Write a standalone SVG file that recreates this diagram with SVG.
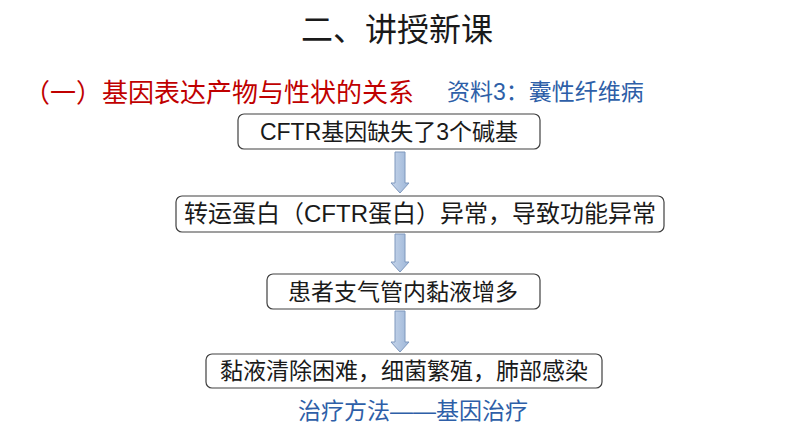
<svg xmlns="http://www.w3.org/2000/svg" width="794" height="447" viewBox="0 0 794 447">
<style>
.box{fill:#fff;stroke:#404040;stroke-width:1.2}
.t{font-family:"Liberation Sans","Noto Sans CJK SC",sans-serif;fill:#1a1a1a;text-anchor:middle}
.arr{fill:url(#g);stroke:#7f98bd;stroke-width:1}
</style>
<defs>
<linearGradient id="g" x1="0" y1="0" x2="1" y2="0">
<stop offset="0" stop-color="#c6d5ea"/>
<stop offset="1" stop-color="#9db6d8"/>
</linearGradient>
</defs>
<rect width="794" height="447" fill="#fff"/>
<text class="t" x="397" y="41" font-size="32" fill="#000">二、讲授新课</text>
<text x="24" y="102" font-size="26" fill="#c00000" font-family="Liberation Sans,Noto Sans CJK SC,sans-serif">（一）基因表达产物与性状的关系</text>
<text x="447" y="100" font-size="23" fill="#2e5fa8" font-family="Liberation Sans,Noto Sans CJK SC,sans-serif">资料3：囊性纤维病</text>
<g id="connectors">
<path class="arr" d="M395,152 H405 V183 H409 L400,193 L391,183 H395 Z"/>
<path class="arr" d="M395,234 H405 V262 H409 L400,272 L391,262 H395 Z"/>
<path class="arr" d="M395,311 H405 V342 H409 L400,352 L391,342 H395 Z"/>
</g>
<g id="n1"><rect class="box" x="238" y="114" width="302" height="35" rx="6"/><text class="t" x="389" y="140" font-size="23">CFTR基因缺失了3个碱基</text></g>
<g id="n2"><rect class="box" x="176" y="196" width="488" height="36" rx="6"/><text class="t" x="420" y="222" font-size="24">转运蛋白（CFTR蛋白）异常，导致功能异常</text></g>
<g id="n3"><rect class="box" x="267" y="274" width="273" height="35" rx="6"/><text class="t" x="403" y="300" font-size="23">患者支气管内黏液增多</text></g>
<g id="n4"><rect class="box" x="206" y="354" width="396" height="34" rx="6"/><text class="t" x="404" y="379" font-size="23">黏液清除困难，细菌繁殖，肺部感染</text></g>
<text x="413" y="419" font-size="23" fill="#2e5fa8" text-anchor="middle" font-family="Liberation Sans,Noto Sans CJK SC,sans-serif">治疗方法——基因治疗</text>
</svg>
